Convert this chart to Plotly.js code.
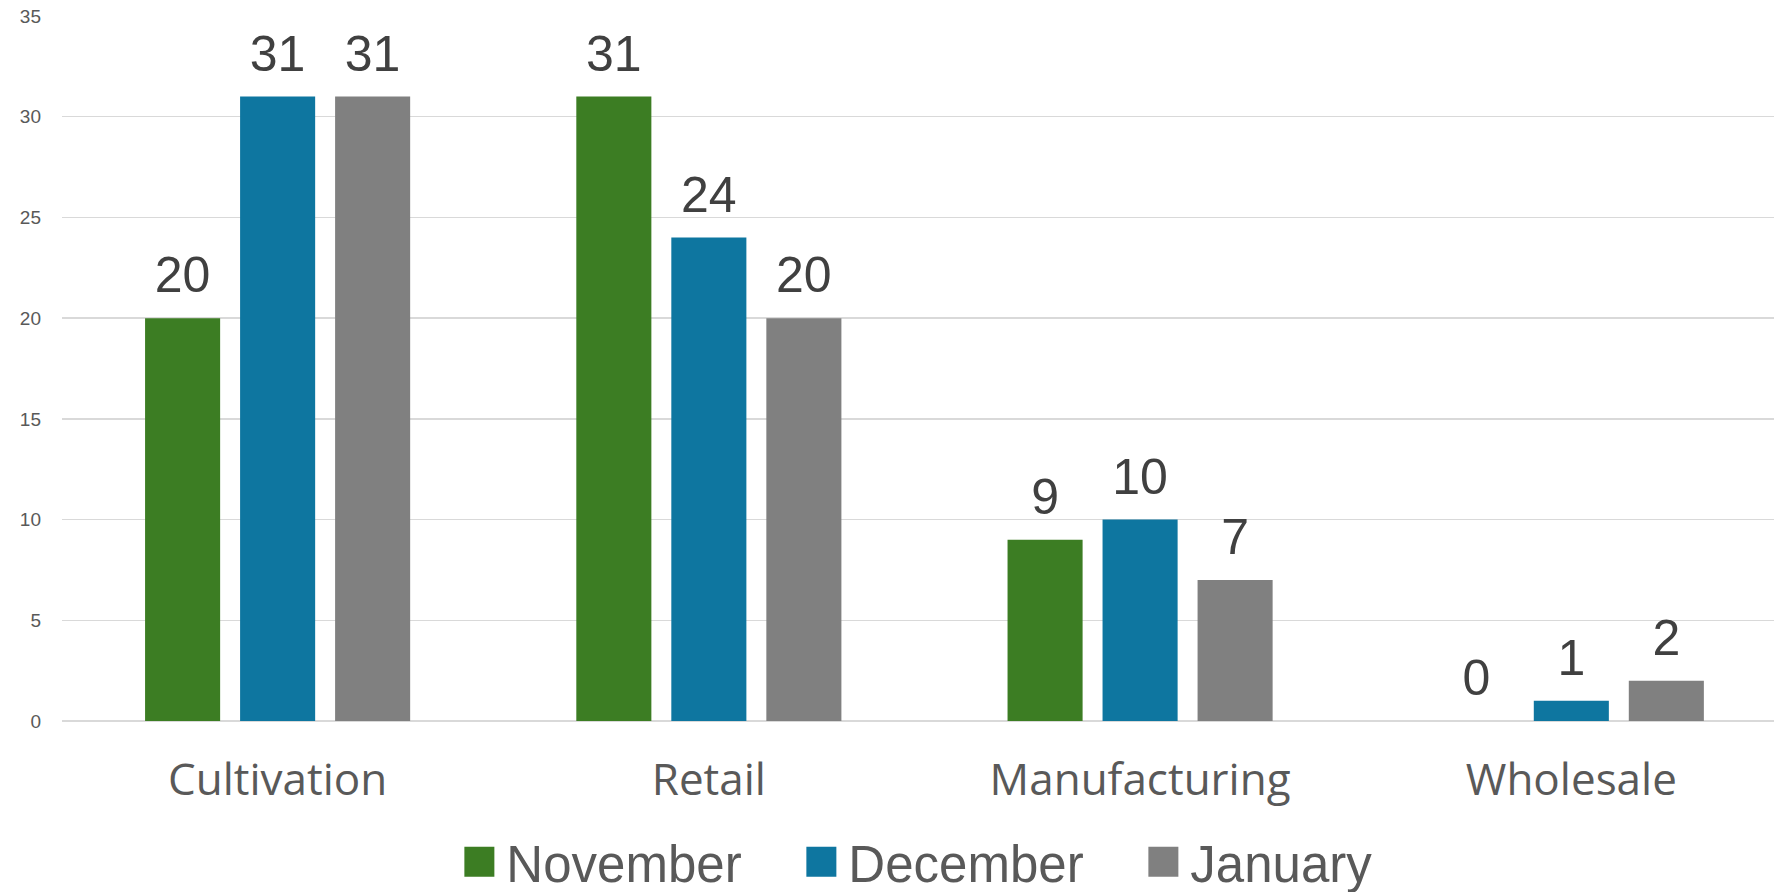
<!DOCTYPE html>
<html>
<head>
<meta charset="utf-8">
<script src="https://cdn.plot.ly/plotly-3.0.1.min.js"></script>
<style>
  html, body { margin: 0; padding: 0; background: #ffffff; overflow: hidden; }
  #chart { width: 1774px; height: 892px; }
</style>
</head>
<body>
<div id="chart"></div>
<script>
// ---- data ----
const categories = ["Cultivation", "Retail", "Manufacturing", "Wholesale"];
const seriesNames = ["November", "December", "January"];
const november = [20, 31, 9, 0];
const december = [31, 24, 10, 1];
const january = [31, 20, 7, 2];
const yTickValues = [0, 5, 10, 15, 20, 25, 30, 35];

const seriesValues = [november, december, january];
const colors = ["#3c7d23", "#0e76a0", "#808080"];

const BARGAP = 0.339;

const traces = [];
seriesValues.forEach((vals, i) => {
  traces.push({
    type: "bar",
    name: seriesNames[i],
    x: categories,
    y: vals,
    marker: { color: colors[i] },
    hoverinfo: "x+y+name"
  });
});
// data labels, grouped like the bars
seriesValues.forEach((vals, i) => {
  traces.push({
    type: "scatter",
    mode: "markers+text",
    x: categories,
    y: vals,
    text: vals.map(String),
    textposition: "top center",
    textfont: { family: "Liberation Sans, Arial, sans-serif", size: 50, color: "#404040" },
    marker: { size: 20, color: "rgba(0,0,0,0)" },
    showlegend: false,
    hoverinfo: "skip",
    cliponaxis: false
  });
});

const layout = {
  width: 1774,
  height: 892,
  margin: { l: 62, r: 0, t: 16, b: 171 },
  paper_bgcolor: "#ffffff",
  plot_bgcolor: "#ffffff",
  barmode: "group",
  bargap: BARGAP,
  bargroupgap: 0.21,
  scattermode: "group",
  scattergap: BARGAP,
  showlegend: true,
  legend: {
    orientation: "h",
    xref: "container",
    yref: "container",
    x: 0.255,
    xanchor: "left",
    y: 1 - 862 / 892,
    yanchor: "middle",
    font: { family: "Liberation Sans, Arial, sans-serif", size: 51, color: "#595959" },
    itemwidth: 44,
    entrywidth: 283,
    traceorder: "normal"
  },
  xaxis: {
    type: "category",
    range: [-0.5, 3.47],
    showgrid: false,
    zeroline: false,
    showline: false,
    ticks: "",
    ticklabelstandoff: 29,
    tickfont: { family: "Open Sans, sans-serif", size: 44, color: "#595959" },
    fixedrange: true
  },
  yaxis: {
    range: [0, 35],
    tickvals: yTickValues,
    ticktext: yTickValues.map(String),
    showgrid: true,
    gridcolor: "#d9d9d9",
    gridwidth: 1.5,
    zeroline: true,
    zerolinecolor: "#d9d9d9",
    zerolinewidth: 1.5,
    showline: false,
    ticks: "",
    ticklabelstandoff: 20,
    tickfont: { family: "Liberation Sans, Arial, sans-serif", size: 19, color: "#595959" },
    fixedrange: true
  },
  font: { family: "Liberation Sans, Arial, sans-serif", color: "#595959" }
};

Plotly.newPlot("chart", traces, layout, { displayModeBar: false, staticPlot: true }).then(gd => {
  // enlarge the legend swatches to match the reference's big squares
  gd.querySelectorAll(".legend .legendpoints path").forEach(p => {
    const t = p.getAttribute("transform") || "";
    p.setAttribute("transform", t + " scale(2.5)");
  });
});
</script>
</body>
</html>
